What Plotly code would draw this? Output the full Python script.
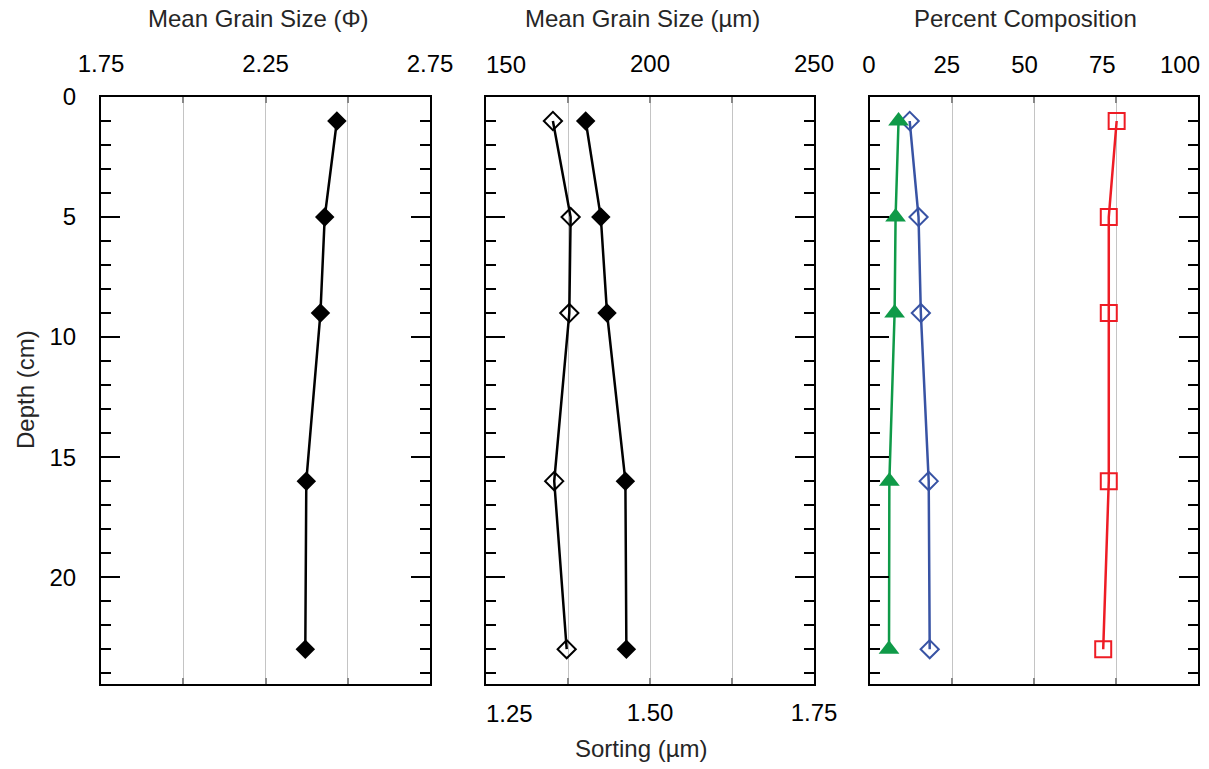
import plotly.graph_objects as go

# ---- data ----
depth = [1, 5, 9, 16, 23]
mean_phi = [2.467, 2.430, 2.417, 2.374, 2.371]
mean_um = [180.4, 185.0, 186.9, 192.5, 192.8]
sorting_um = [1.352, 1.379, 1.377, 1.354, 1.373]
green_pct = [8.7, 7.8, 7.5, 5.9, 5.8]
blue_pct = [12.1, 14.8, 15.5, 17.9, 18.2]
red_pct = [75.2, 72.8, 72.8, 72.8, 71.1]

phi_ticks = [1.75, 2.0, 2.25, 2.5, 2.75]
phi_text = ["1.75", "", "2.25", "", "2.75"]
um_ticks = [150, 175, 200, 225, 250]
um_text = ["150", "", "200", "", "250"]
sort_ticks = [1.25, 1.375, 1.5, 1.625, 1.75]
sort_text = ["1.25", "", "1.50", "", "1.75"]
pct_ticks = [0, 25, 50, 75, 100]
pct_text = ["0", "25", "50", "75", "100"]
depth_ticks = [0, 5, 10, 15, 20]

FONT = "Liberation Sans, Arial, sans-serif"
FS = 24
W, H = 1209, 769
ML, MR, MT, MB = 101, 11, 97, 85
PW = W - ML - MR
PH = H - MT - MB

def dom(a, b):
    return [(a - ML) / PW, (b - ML) / PW]

d1 = dom(101, 430)
d2 = dom(486, 814)
d3 = dom(870, 1198)
d3_labels = dom(869, 1180)

fig = go.Figure()

fig.add_trace(go.Scatter(x=mean_phi, y=depth, xaxis="x", yaxis="y", mode="lines+markers",
                         line=dict(color="black", width=2.5),
                         marker=dict(symbol="diamond", size=15, color="black"), showlegend=False))
fig.add_trace(go.Scatter(x=sorting_um, y=depth, xaxis="x4", yaxis="y2", mode="lines+markers",
                         line=dict(color="black", width=2.5),
                         marker=dict(symbol="diamond-open", size=14, color="black", line=dict(width=2)),
                         showlegend=False))
fig.add_trace(go.Scatter(x=mean_um, y=depth, xaxis="x2", yaxis="y2", mode="lines+markers",
                         line=dict(color="black", width=2.5),
                         marker=dict(symbol="diamond", size=15, color="black"), showlegend=False))
fig.add_trace(go.Scatter(x=red_pct, y=depth, xaxis="x3", yaxis="y3", mode="lines+markers",
                         line=dict(color="#ee1c25", width=2.5),
                         marker=dict(symbol="square-open", size=16, color="#ee1c25", line=dict(width=2)),
                         showlegend=False))
fig.add_trace(go.Scatter(x=blue_pct, y=depth, xaxis="x3", yaxis="y3", mode="lines+markers",
                         line=dict(color="#3853a4", width=2.5),
                         marker=dict(symbol="diamond-open", size=14, color="#3853a4", line=dict(width=2)),
                         showlegend=False))
fig.add_trace(go.Scatter(x=green_pct, y=depth, xaxis="x3", yaxis="y3", mode="lines+markers",
                         line=dict(color="#0f9a48", width=2.5),
                         marker=dict(symbol="triangle-up", size=18, color="#0f9a48"), showlegend=False))
# invisible helper trace so the label-only axis of panel 3 is drawn
fig.add_trace(go.Scatter(x=[50], y=[-50], xaxis="x5", yaxis="y3", mode="markers",
                         marker=dict(opacity=0), hoverinfo="skip", showlegend=False))

def xax(domain, rng, tv, tt, side, mirror, anchor, standoff, grid=True, overlay=None, labels=True):
    d = dict(domain=domain, range=rng, side=side, tickmode="array", tickvals=tv, ticktext=tt,
             ticks="inside", ticklen=6, tickwidth=2, tickcolor="#888888",
             showline=True, linecolor="black", linewidth=2, mirror=mirror,
             showgrid=grid, gridcolor="#c4c4c4", gridwidth=1, zeroline=False,
             showticklabels=labels,
             tickfont=dict(family=FONT, size=FS, color="black"),
             ticklabelstandoff=standoff, anchor=anchor, fixedrange=True, automargin=False)
    if overlay:
        d["overlaying"] = overlay
    return d

def yax(anchor, labels, match=None):
    d = dict(domain=[0, 1], range=[24.45, 0], tickmode="array", tickvals=depth_ticks,
             ticks="inside", ticklen=19, tickwidth=2, tickcolor="black",
             minor=dict(dtick=1, tick0=0, ticks="inside", ticklen=10, tickwidth=2, tickcolor="black", showgrid=False),
             showline=True, linecolor="black", linewidth=2, mirror="ticks",
             showgrid=False, zeroline=False, showticklabels=labels,
             tickfont=dict(family=FONT, size=FS, color="black"),
             ticklabelstandoff=18, anchor=anchor, fixedrange=True, automargin=False)
    if match:
        d["matches"] = match
    return d

# first labels of the middle panel are drawn as annotations (offset in the reference)
um_axis_text = [""] + um_text[1:]
sort_axis_text = [""] + sort_text[1:]

fig.update_layout(
    width=W, height=H, autosize=False,
    margin=dict(l=ML, r=MR, t=MT, b=MB, pad=0, autoexpand=False),
    paper_bgcolor="white", plot_bgcolor="rgba(0,0,0,0)",
    font=dict(family=FONT, size=FS, color="black"),
    xaxis=xax(d1, [1.75, 2.75], phi_ticks, phi_text, "top", "ticks", "y", 13),
    xaxis2=xax(d2, [150, 250], um_ticks, um_axis_text, "top", False, "y2", 13),
    xaxis3=xax(d3, [0, 100], pct_ticks, pct_text, "top", "ticks", "y3", 13, labels=False),
    xaxis4=xax(d2, [1.25, 1.75], sort_ticks, sort_axis_text, "bottom", False, "y2", 6, grid=False, overlay="x2"),
    xaxis5=dict(domain=d3_labels, range=[0, 100], side="top", anchor="free", position=1,
                tickmode="array", tickvals=pct_ticks, ticktext=pct_text,
                ticks="", showline=False, showgrid=False, zeroline=False,
                tickfont=dict(family=FONT, size=FS, color="black"),
                ticklabelstandoff=19, fixedrange=True, automargin=False),
    yaxis=yax("x", True),
    yaxis2=yax("x2", False, "y"),
    yaxis3=yax("x3", False, "y"),
)

def ann(text, xpx, ypx, angle=0, color="#262626"):
    return dict(text=text, xref="paper", yref="paper",
                x=(xpx - ML) / PW, y=(H - MB - ypx) / PH,
                xanchor="center", yanchor="middle", showarrow=False, textangle=angle,
                font=dict(family=FONT, size=FS, color=color))

fig.update_layout(annotations=[
    ann("Mean Grain Size (Φ)", 258, 18),
    ann("Mean Grain Size (µm)", 642, 18),
    ann("Percent Composition", 1025, 18),
    ann("Sorting (µm)", 641, 748),
    ann("Depth (cm)", 25, 390, -90),
    ann(um_text[0], 506, 64, color="black"),
    ann(sort_text[0], 509, 713, color="black"),
])

fig.write_html("out.html", config={"displayModeBar": False},
               post_script="document.body.style.margin='0';document.body.style.overflow='hidden';")
